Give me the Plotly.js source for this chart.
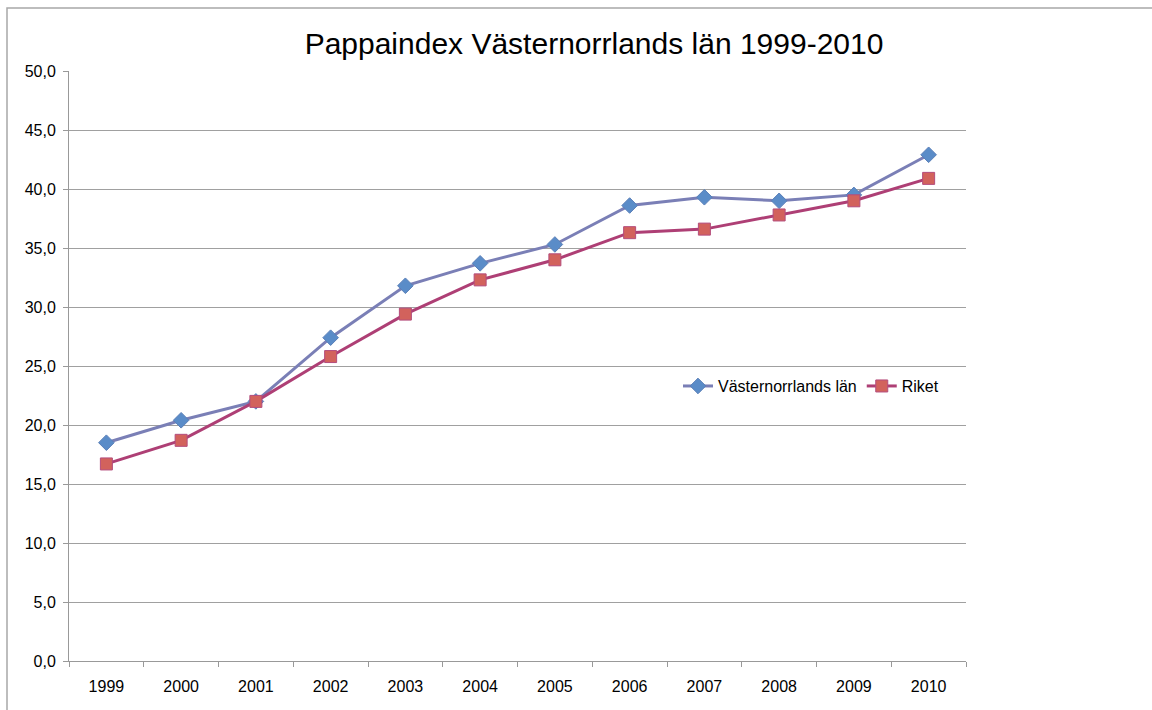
<!DOCTYPE html>
<html>
<head>
<meta charset="utf-8">
<script src="https://cdn.plot.ly/plotly-3.0.1.min.js"></script>
<style>html,body{margin:0;padding:0;background:#fff;}#chart{width:1152px;height:710px;}</style>
</head>
<body>
<div id="chart"></div>
<script>
const years = ["1999","2000","2001","2002","2003","2004","2005","2006","2007","2008","2009","2010"];
const vasternorrland = [18.5, 20.4, 22.0, 27.4, 31.8, 33.7, 35.3, 38.6, 39.3, 39.0, 39.5, 42.9];
const riket = [16.7, 18.7, 22.0, 25.8, 29.4, 32.3, 34.0, 36.3, 36.6, 37.8, 39.0, 40.9];
const yTicks = [0, 5, 10, 15, 20, 25, 30, 35, 40, 45, 50];
const yTickLabels = ["0,0","5,0","10,0","15,0","20,0","25,0","30,0","35,0","40,0","45,0","50,0"];

const font = "'Liberation Sans', Arial, Helvetica, sans-serif";

const traces = [
  {
    x: years, y: vasternorrland, name: "Västernorrlands län",
    type: "scatter", mode: "lines+markers",
    line: {color: "#7a7fb6", width: 3},
    marker: {symbol: "diamond", size: 12, color: "#5a8cc8", line: {color: "#5a7fb8", width: 1}}
  },
  {
    x: years, y: riket, name: "Riket",
    type: "scatter", mode: "lines+markers",
    line: {color: "#ae3f75", width: 3},
    marker: {symbol: "square", size: 12, color: "#d2625c", line: {color: "#b44c7c", width: 1}}
  }
];

const layout = {
  width: 1152, height: 710,
  margin: {l: 69, r: 186, t: 71, b: 49, pad: 0},
  paper_bgcolor: "#ffffff", plot_bgcolor: "#ffffff",
  font: {family: font, size: 16, color: "#000"},
  title: {text: "Pappaindex Västernorrlands län 1999-2010", font: {family: font, size: 30, color: "#000"},
          x: 594/1152, xref: "container", xanchor: "center", y: 1 - 43/710, yanchor: "middle"},
  showlegend: true,
  legend: {orientation: "h", x: (678-69)/897, xanchor: "left", y: 0.466, yanchor: "middle",
           bgcolor: "rgba(0,0,0,0)", font: {family: font, size: 16, color: "#000"},
           itemwidth: 30, traceorder: "normal"},
  xaxis: {
    type: "category", range: [-0.5, 11.5], tickson: "boundaries",
    ticks: "outside", ticklen: 5, tickcolor: "#999", showgrid: false,
    showline: true, linecolor: "#999", linewidth: 1, zeroline: false,
    tickfont: {family: font, size: 16, color: "#000"}, ticklabelstandoff: 11, fixedrange: true
  },
  yaxis: {
    range: [0, 50], tickvals: yTicks, ticktext: yTickLabels,
    ticks: "outside", ticklen: 5, tickcolor: "#999",
    showgrid: true, gridcolor: "#a0a0a0", gridwidth: 1,
    showline: true, linecolor: "#999", linewidth: 1, zeroline: false,
    tickfont: {family: font, size: 16, color: "#000"}, ticklabelstandoff: 4, fixedrange: true
  },
  shapes: [
    {type: "rect", xref: "paper", yref: "paper", x0: (7-69)/897, x1: 1.5, y0: -0.2, y1: (661-8)/590,
     line: {color: "#a8a8a8", width: 1.5}, fillcolor: "rgba(0,0,0,0)", layer: "below"},
    {type: "rect", xref: "paper", yref: "paper", x0: (661-69)/897, x1: 1.002, y0: (661-398)/590, y1: (661-374)/590,
     line: {width: 0}, fillcolor: "#ffffff", layer: "between"}
  ]
};

Plotly.newPlot("chart", traces, layout, {displayModeBar: false, staticPlot: true});
</script>
</body>
</html>
